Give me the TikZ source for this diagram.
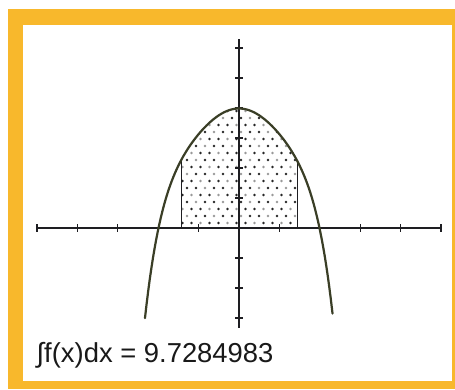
\documentclass[tikz,border=0pt]{standalone}
\usepackage{fontspec}
\setmainfont{Liberation Sans}
\definecolor{frameor}{RGB}{248,184,44}
\definecolor{curvec}{RGB}{58,62,38}
\definecolor{axisc}{RGB}{30,30,34}
\begin{document}
\begin{tikzpicture}[x=1pt,y=-1pt,
  axisline/.style={draw=axisc,line width=1.4pt},
  tickline/.style={draw=axisc,line width=1.2pt},
  curveline/.style={draw=curvec,line width=2.2pt,line cap=round},
  edgeline/.style={draw=axisc,line width=0.9pt},
  label/.style={font=\fontsize{27.4}{32}\selectfont,anchor=base west,inner sep=0pt,text=black!90}]
\useasboundingbox (0,0) rectangle (455,389);
% frame
\fill[white] (0,0) rectangle (455,389);
\fill[frameor] (8,9) rectangle (455,389);
\fill[white] (23,25) rectangle (452,381);
% shaded region dots
\begin{scope}
  \clip (181.7,228) -- plot[domain=-0.712:0.724,samples=60]
     ({239+80.5*\x},{228-119.5*(1-\x*\x)*(1+0.063*\x*\x+0.529*\x*\x*\x*\x)}) -- (297.5,228) -- cycle;
  \foreach \i in {0,...,19}{
    \foreach \j in {0,...,14}{
      \pgfmathsetmacro\xx{178+9*\j+4.5*mod(\i,2)}
      \pgfmathsetmacro\yy{104+7*\i}
      \pgfmathtruncatemacro\kk{mod(\i*2+\j,3)}
      \ifnum\kk=0
        \fill[black!40] (\xx,\yy) circle (1.4pt);
      \else
        \fill[black!85] (\xx,\yy) circle (1.35pt);
      \fi
    }
  }
\end{scope}
% region edges
\draw[edgeline] (181.7,228) -- (181.7,{228-119.5*(1-0.712*0.712)*(1+0.063*0.712*0.712+0.529*0.712^4)});
\draw[edgeline] (297.5,228) -- (297.5,{228-119.5*(1-0.724*0.724)*(1+0.063*0.724*0.724+0.529*0.724^4)});
% axes
\draw[axisline] (37,228) -- (441,228);
\draw[axisline] (239,39) -- (239,328);
\foreach \k in {0,...,10}{
  \draw[tickline] ({37+40.4*\k},224) -- ++(0,8);
}
\foreach \k in {-6,...,-1,1,2,3}{
  \draw[tickline] (235,{228+30*\k}) -- ++(8,0);
}
% curve
\draw[curveline] plot[domain=-1.168:1.162,samples=120]
  ({239+80.5*\x},{228-119.5*(1-\x*\x)*(1+0.063*\x*\x+0.529*\x*\x*\x*\x)});
% label
\node[label] (res) at (36.5,362) {∫f(x)dx = 9.7284983};
\end{tikzpicture}
\end{document}
